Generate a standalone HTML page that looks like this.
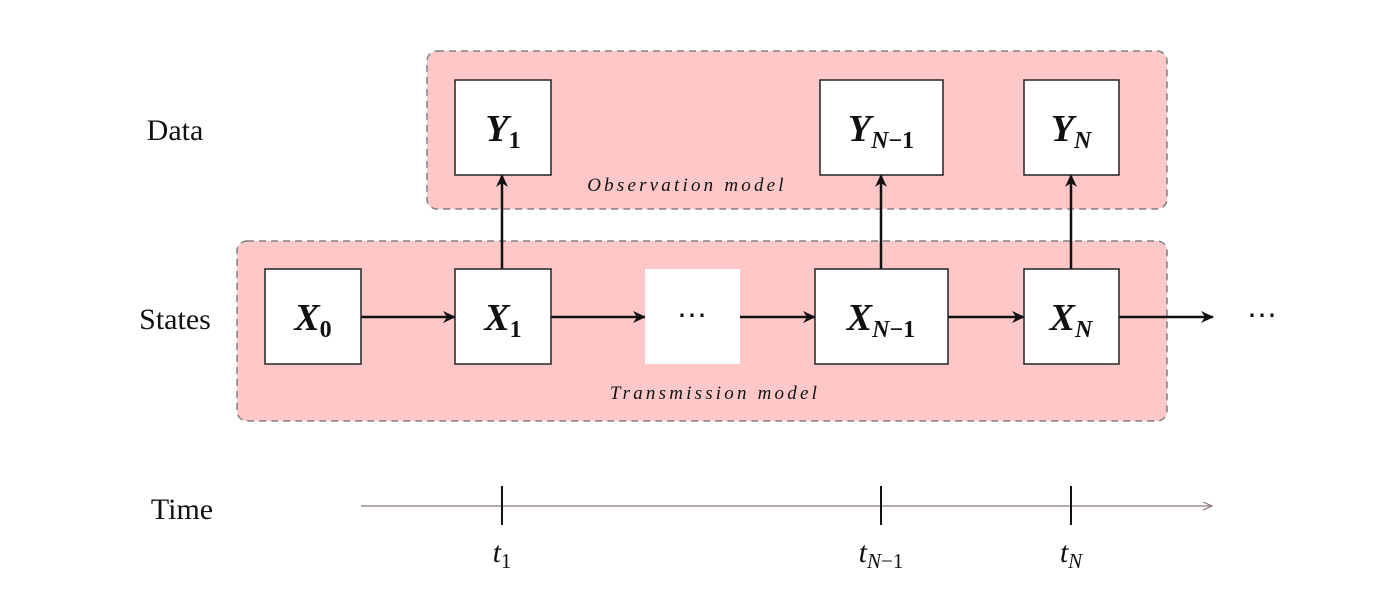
<!DOCTYPE html>
<html><head><meta charset="utf-8"><style>
html,body{margin:0;padding:0;background:#fff;}
svg{display:block;}
text{font-family:"Liberation Serif",serif;fill:#111;}
.m{font-weight:bold;font-style:italic;font-size:38px;}
.s{font-weight:bold;font-size:24px;}
.si{font-weight:bold;font-style:italic;font-size:24px;}
</style></head><body>
<svg width="1400" height="613" viewBox="0 0 1400 613">
<defs>
<marker id="ah" markerWidth="14" markerHeight="12" refX="12" refY="6" orient="auto" markerUnits="userSpaceOnUse">
<path d="M0,0 L13,6 L0,12 L4,6 Z" fill="#111"/></marker>
<marker id="ah2" markerWidth="10" markerHeight="10" refX="9" refY="5" orient="auto" markerUnits="userSpaceOnUse">
<path d="M0,1 L9,5 L0,9" fill="none" stroke="#8a7a7a" stroke-width="1.2"/></marker>
</defs>
<rect x="427" y="51" width="740" height="158" rx="10" fill="#ffc8c8" stroke="#808080" stroke-width="1.5" stroke-dasharray="7,5"/>
<rect x="237" y="241" width="930" height="180" rx="10" fill="#ffc8c8" stroke="#808080" stroke-width="1.5" stroke-dasharray="7,5"/>
<text x="175" y="140" font-size="30" text-anchor="middle">Data</text>
<text x="175" y="329" font-size="30" text-anchor="middle">States</text>
<text x="182" y="519" font-size="30" text-anchor="middle">Time</text>
<text x="687" y="191" font-size="19" font-style="italic" letter-spacing="3.2" text-anchor="middle">Observation model</text>
<text x="715" y="399" font-size="19" font-style="italic" letter-spacing="3.2" text-anchor="middle">Transmission model</text>
<g stroke="#111" stroke-width="2.5" fill="none">
<line x1="361" y1="317" x2="455" y2="317" marker-end="url(#ah)"/>
<line x1="551" y1="317" x2="645" y2="317" marker-end="url(#ah)"/>
<line x1="740" y1="317" x2="815" y2="317" marker-end="url(#ah)"/>
<line x1="948" y1="317" x2="1024" y2="317" marker-end="url(#ah)"/>
<line x1="1119" y1="317" x2="1213" y2="317" marker-end="url(#ah)"/>
<line x1="502" y1="269" x2="502" y2="175" marker-end="url(#ah)"/>
<line x1="881" y1="269" x2="881" y2="175" marker-end="url(#ah)"/>
<line x1="1071" y1="269" x2="1071" y2="175" marker-end="url(#ah)"/>
</g>
<g stroke="#222" stroke-width="1.5" fill="#fff">
<rect x="455" y="80" width="96" height="95"/>
<rect x="820" y="80" width="123" height="95"/>
<rect x="1024" y="80" width="95" height="95"/>
<rect x="265" y="269" width="96" height="95"/>
<rect x="455" y="269" width="96" height="95"/>
<rect x="815" y="269" width="133" height="95"/>
<rect x="1024" y="269" width="95" height="95"/>
</g>
<rect x="645" y="269" width="95" height="95" fill="#fff"/>
<text x="692" y="325" font-size="30" text-anchor="middle">⋯</text>
<text x="1262" y="325" font-size="30" text-anchor="middle">⋯</text>
<text x="503" y="141" text-anchor="middle"><tspan class="m">Y</tspan><tspan class="s" dy="7">1</tspan></text>
<text x="881" y="141" text-anchor="middle"><tspan class="m">Y</tspan><tspan class="si" dy="7">N</tspan><tspan class="s">−1</tspan></text>
<text x="1071" y="141" text-anchor="middle"><tspan class="m">Y</tspan><tspan class="si" dy="7">N</tspan></text>
<text x="313" y="330" text-anchor="middle"><tspan class="m">X</tspan><tspan class="s" dy="7">0</tspan></text>
<text x="503" y="330" text-anchor="middle"><tspan class="m">X</tspan><tspan class="s" dy="7">1</tspan></text>
<text x="881" y="330" text-anchor="middle"><tspan class="m">X</tspan><tspan class="si" dy="7">N</tspan><tspan class="s">−1</tspan></text>
<text x="1071" y="330" text-anchor="middle"><tspan class="m">X</tspan><tspan class="si" dy="7">N</tspan></text>
<line x1="361" y1="506" x2="1212" y2="506" stroke="#8a7a7a" stroke-width="1.2" marker-end="url(#ah2)"/>
<g stroke="#111" stroke-width="2">
<line x1="502" y1="486" x2="502" y2="525"/>
<line x1="881" y1="486" x2="881" y2="525"/>
<line x1="1071" y1="486" x2="1071" y2="525"/>
</g>
<text x="502" y="562" text-anchor="middle"><tspan font-size="30" font-style="italic">t</tspan><tspan font-size="21" dy="6">1</tspan></text>
<text x="881" y="562" text-anchor="middle"><tspan font-size="30" font-style="italic">t</tspan><tspan font-size="21" font-style="italic" dy="6">N</tspan><tspan font-size="21">−1</tspan></text>
<text x="1071" y="562" text-anchor="middle"><tspan font-size="30" font-style="italic">t</tspan><tspan font-size="21" font-style="italic" dy="6">N</tspan></text>
</svg>
</body></html>
